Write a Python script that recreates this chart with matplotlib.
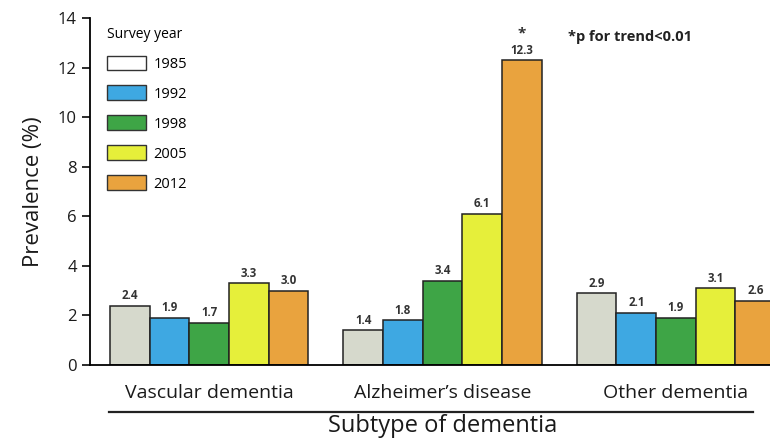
import numpy as np
import matplotlib
matplotlib.use('Agg')
import matplotlib.pyplot as plt
from matplotlib.patches import Patch

plt.rcParams['font.family'] = ['Open Sans', 'DejaVu Sans']

subtypes = ['Vascular dementia', 'Alzheimer\u2019s disease', 'Other dementia']
years = ['1985', '1992', '1998', '2005', '2012']
prev_1985 = [2.4, 1.4, 2.9]
prev_1992 = [1.9, 1.8, 2.1]
prev_1998 = [1.7, 3.4, 1.9]
prev_2005 = [3.3, 6.1, 3.1]
prev_2012 = [3.0, 12.3, 2.6]
series = [prev_1985, prev_1992, prev_1998, prev_2005, prev_2012]
colors = ['#d6d9cc', '#3ea8e2', '#3ea546', '#e6ef3a', '#e9a33e']
legend_colors = ['#ffffff', '#3ea8e2', '#3ea546', '#e6ef3a', '#e9a33e']

fig = plt.figure(figsize=(7.7, 4.44), dpi=100)
ax = fig.add_axes([90 / 770, 79 / 444, 705 / 770, 347 / 444])

x = np.arange(len(subtypes))
w = 0.17
for i, (vals, c) in enumerate(zip(series, colors)):
    pos = x + (i - 2) * w
    bars = ax.bar(pos, vals, w, color=c, edgecolor='#222222', linewidth=1.1,
                  label=years[i], zorder=2)
    for b, v in zip(bars, vals):
        ax.annotate('%.1f' % v, (b.get_x() + b.get_width() / 2, v),
                    xytext=(0, 2.5), textcoords='offset points',
                    ha='center', va='bottom', fontsize=8.3, fontweight='bold',
                    color='#333333')

# trend marker over the 2012 Alzheimer's bar
ax.annotate('*', (x[1] + 2 * w, prev_2012[1]), xytext=(0, 14),
            textcoords='offset points', ha='center', va='bottom',
            fontsize=11, fontweight='bold', color='#333333')
ax.text(0.678, 0.945, '*p for trend<0.01', transform=ax.transAxes,
        ha='left', va='center', fontsize=10.5, fontweight='bold', color='#222222')

ax.set_ylim(0, 14)
ax.set_xlim(-0.51, 2.51)
ax.set_yticks(np.arange(0, 15, 2))
ax.tick_params(axis='y', labelsize=12, length=6, width=1.3, direction='out',
               colors='#1a1a1a')
ax.set_xticks(x)
ax.set_xticklabels(subtypes, fontsize=14)
ax.tick_params(axis='x', length=0, pad=14, colors='#1a1a1a')
for s in ['top', 'right']:
    ax.spines[s].set_visible(False)
ax.spines['left'].set_linewidth(1.3)
ax.spines['bottom'].set_linewidth(1.3)

ax.set_ylabel('Prevalence (%)', fontsize=16, labelpad=10, color='#1a1a1a')
ax.set_xlabel('Subtype of dementia', fontsize=17, labelpad=8, color='#1a1a1a')

# rule between category names and axis title
ax.plot([-0.43, 2.33], [-0.136, -0.136], transform=ax.get_xaxis_transform(),
        color='#222222', lw=1.6, clip_on=False)

handles = [Patch(facecolor=c, edgecolor='#333333', linewidth=1.0, label=y)
           for c, y in zip(legend_colors, years)]
leg = ax.legend(handles=handles, title='Survey year', loc='upper left',
                bbox_to_anchor=(0.005, 1.012), frameon=False, fontsize=10.5,
                title_fontsize=10, handlelength=2.7, handleheight=1.2,
                labelspacing=0.93, handletextpad=0.5, alignment='left')

fig.savefig('out.png', dpi=100)
